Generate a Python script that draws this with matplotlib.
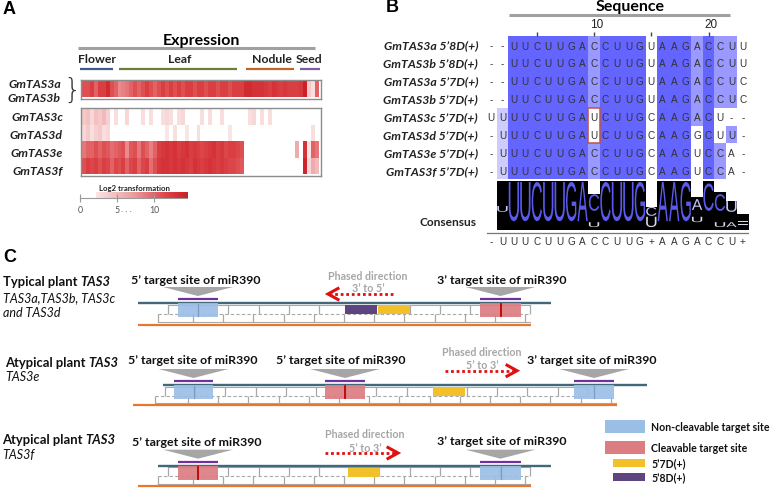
import numpy as np
import matplotlib
matplotlib.use('Agg')
import matplotlib.pyplot as plt
from matplotlib.colors import LinearSegmentedColormap
from matplotlib.patches import Rectangle, Polygon, PathPatch
from matplotlib.textpath import TextPath
from matplotlib.font_manager import FontProperties
from matplotlib.transforms import Affine2D

plt.rcParams['font.family'] = ['Lato', 'DejaVu Sans']

# ---------------- panel A data (log2 expression, 60 libraries) ----------------
groups = ['Flower', 'Leaf', 'Nodule', 'Seed']
group_cols = [(-0.6, 7.8), (9.2, 39.1), (41.4, 53.5), (55.0, 60.0)]
rows_ab = ['GmTAS3a', 'GmTAS3b']
rows_cdef = ['GmTAS3c', 'GmTAS3d', 'GmTAS3e', 'GmTAS3f']

expr_ab = [11, 11, 12, 10, 12, 12, 13.5, 11, 10, 8,
           8.5, 9, 10, 11, 10, 11, 12, 11, 10, 11,
           12, 11, 12, 11, 12, 11, 12, 12, 11, 12,
           12, 11, 12, 12, 11, 12, 12, 11, 12, 12,
           12, 13.5, 13.5, 13, 13, 13, 12.5, 12, 13, 12.5,
           12, 12.5, 12, 12, 12, 12.5, 14.5, 4, 2.5, 10]
expr_c = [4, 4.5, 3, 4.5, 4, 5, 3.5, 0, 2.5, 0,
          0, 3, 0, 0, 0, 2.5, 0, 2.5, 0, 0,
          2.5, 3, 2.5, 0, 2.5, 3, 0, 0, 0, 0,
          2.5, 0, 2.5, 0, 0, 2.5, 0, 0, 0, 0,
          0, 0, 2.5, 3, 0, 2.5, 0, 2.5, 0, 0,
          0, 0, 0, 0, 0, 0, 0, 0, 0, 0]
expr_d = [3, 4, 2.5, 3.5, 4, 2.5, 3, 0, 0, 0,
          0, 0, 0, 0, 0, 0, 0, 0, 0, 0,
          0, 2, 0, 2.5, 0, 0, 2, 0, 0, 2.5,
          0, 0, 0, 0, 0, 0, 0, 2, 0, 0,
          0, 0, 0, 0, 0, 0, 0, 0, 0, 0,
          0, 0, 0, 0, 0, 0, 0, 0, 2.5, 0]
expr_e = [9, 10, 10, 11, 10, 11, 10.5, 9.5, 10, 10.5,
          11, 8, 10.5, 11, 9, 11, 10, 8.5, 10, 12,
          12.5, 13, 12.5, 13, 12, 12.5, 13, 12, 12.5, 12,
          11.5, 12, 12.5, 13, 12, 12.5, 11.5, 12, 12, 11.5,
          11, 0, 0, 0, 0, 0, 0, 0, 0, 0,
          0, 0, 0, 0, 6, 0, 13, 2, 10, 9]
expr_f = [11, 12, 11.5, 12, 11, 12, 11.5, 10, 11.5, 11,
          12, 10, 11.5, 12, 10, 11.5, 12, 9.5, 11, 12.5,
          13, 13, 12.5, 13, 12.5, 13, 12.5, 12, 13, 12.5,
          12, 12.5, 13, 12.5, 12, 12.5, 12, 11.5, 11.5, 11,
          10.5, 0, 0, 0, 0, 0, 0, 0, 0, 0,
          0, 0, 0, 0, 0, 0, 14, 3, 6, 5]
cbar_ticks = [0, 5, 10]

# ---------------- panel B data (alignment) ----------------
seq_names = ['GmTAS3a 5’8D(+)', 'GmTAS3b 5’8D(+)', 'GmTAS3a 5’7D(+)', 'GmTAS3b 5’7D(+)',
             'GmTAS3c 5’7D(+)', 'GmTAS3d 5’7D(+)', 'GmTAS3e 5’7D(+)', 'GmTAS3f 5’7D(+)']
seqs = ['--UUCUUGACCUUGUAAGACCUU',
        '--UUCUUGACCUUGUAAGACCUU',
        '--UUCUUGACCUUGUAAGACCUC',
        '--UUCUUGACCUUGUAAGACCUC',
        'UUUUCUUGAUCUUGCAAGACU--',
        '-UUUCUUGAUCUUGCAAGGCUU-',
        '-UUUCUUGACCUUGCAAGUCCA-',
        '-UUUCUUGACCUUGCAAGUCCA-']
consensus = '-UUUCUUGACCUUG+AAGACCU+'
seq_ticks = [5, 10, 15, 20]
# logo: bar height, main letter (top, bottom), small letter below (top, bottom)
logo_bar = [0, 1, 1, 1, 1, 1, 1, 1, 1, 0.73, 1, 1, 1, 1, 0.47, 1, 1, 1, 0.67, 1, 0.78, 0.59, 0.33]
logo_main = ['', 'U', 'U', 'U', 'C', 'U', 'U', 'G', 'A', 'C', 'C', 'U', 'U', 'G',
             'C', 'A', 'A', 'G', 'A', 'C', 'C', 'U', '']
logo_main_top = [0, 0.49, .98, .98, .98, .98, .98, .98, .98, 0.73, .98, .98, .98, .98,
                 0.47, .98, .98, .98, 0.63, 0.95, 0.73, 0.59, 0]
logo_main_bot = [0, 0.37, .18, .18, .18, .18, .18, .18, .18, 0.39, .18, .18, .18, .18,
                 0.29, .18, .18, .18, 0.41, 0.39, 0.39, 0.37, 0]
logo_sub = ['', '', '', '', '', '', '', '', '', 'U', '', '', '', '', 'U', '', '', '', 'U', '', 'U', 'A', '=']
logo_sub_top = [0]*9 + [0.16] + [0]*4 + [0.27] + [0]*3 + [0.27, 0, 0.16, 0.16, 0.18]
logo_sub_bot = [0]*9 + [0.06] + [0]*4 + [0.06] + [0]*3 + [0.16, 0, 0.06, 0.06, 0.1]

W, H = 774, 489
fig = plt.figure(figsize=(W / 100, H / 100), dpi=100)


def px_axes(x0, y0, x1, y1):
    return fig.add_axes([x0 / W, 1 - y1 / H, (x1 - x0) / W, (y1 - y0) / H])


ov = fig.add_axes([0, 0, 1, 1])
ov.set_xlim(0, W)
ov.set_ylim(H, 0)
ov.axis('off')

# ================= A =================
ov.text(3, 9, 'A', fontsize=13, fontweight='bold', va='center', family=['Liberation Sans'])
ov.text(201, 41, 'Expression', fontsize=11.5, fontweight='bold', ha='center', va='center')
ov.plot([78, 315], [49, 49], color='#a0a0a0', lw=2.2, solid_capstyle='butt')
grp_colors = ['#3b5d8a', '#6b7f3a', '#c0642b', '#7d5fa0']
grp_text_x = [97, 180, 272, 309]
for g, (c0, c1), col, tx in zip(groups, group_cols, grp_colors, grp_text_x):
    ov.text(tx, 59.5, g, fontsize=8.8, fontweight='bold', ha='center', va='center', color='#222')
    ov.plot([82.5 + 3.95 * c0, 82.5 + 3.95 * c1], [70, 70], color=col, lw=1.6, solid_capstyle='butt')

cmap = LinearSegmentedColormap.from_list(
    'wr', [(0, '#ffffff'), (0.15, '#fae3e3'), (0.5, '#ec9a9c'), (0.8, '#dc4448'), (1, '#cc1f28')])

axt = px_axes(80.5, 80.5, 321, 99.5)
axt.imshow(np.array([expr_ab]), cmap=cmap, vmin=0, vmax=14.5, aspect='auto',
           extent=(0, 60, 1, 0), interpolation='nearest')
axt.set_xlim(-0.5, 60.4)
axt.set_ylim(1.06, -0.06)
axb = px_axes(80.5, 109, 321, 176.5)
axb.imshow(np.array([expr_c, expr_d, expr_e, expr_f]), cmap=cmap, vmin=0, vmax=14.5,
           aspect='auto', extent=(0, 60, 4, 0), interpolation='nearest')
axb.set_xlim(-0.5, 60.4)
axb.set_ylim(4.09, -0.09)
for a in (axt, axb):
    a.set_xticks([])
    a.set_yticks([])
    for s in a.spines.values():
        s.set_color('#8c8c8c')
        s.set_linewidth(1.0)

lab_kw = dict(fontsize=8.8, fontweight='bold', fontstyle='italic', ha='right', va='center', color='#222')
ov.text(61, 84, rows_ab[0], **lab_kw)
ov.text(61, 99, rows_ab[1], **lab_kw)
ov.text(72.5, 90.5, '}', fontsize=20, ha='center', va='center', color='#333',
        family=['DejaVu Sans'], fontweight='light')
for i, (name, yy) in enumerate(zip(rows_cdef, [117.8, 135.3, 153.5, 171])):
    ov.text(63, yy, name, **lab_kw)

# colour key
axc = px_axes(80.2, 192.5, 187, 199.3)
grad = np.linspace(2.1, 14.5, 200)[None, :]
axc.imshow(grad, cmap=cmap, vmin=0, vmax=14.5, aspect='auto', extent=(2.1, 14.5, 0, 1))
axc.set_xlim(0, 14.5)
axc.set_ylim(0, 1)
for k in ('top', 'right', 'left'):
    axc.spines[k].set_visible(False)
axc.spines['bottom'].set_color('#9a9a9a')
axc.set_yticks([])
axc.set_xticks(cbar_ticks)
axc.set_xticklabels([str(t) for t in cbar_ticks])
axc.tick_params(axis='x', direction='inout', length=6, color='#9a9a9a', labelsize=6.3,
                labelcolor='#555', pad=2)
ov.text(121, 209.5, '. . .', fontsize=6.3, color='#555', va='center')
ov.text(134.5, 188.8, 'Log2 transformation', fontsize=5.6, fontweight='bold', ha='center',
        va='center', color='#222')

# ================= B =================
ov.text(386, 8, 'B', fontsize=13, fontweight='bold', va='center', family=['Liberation Sans'])
ov.text(630, 7, 'Sequence', fontsize=11.5, fontweight='bold', ha='center', va='center')
ov.plot([509, 730], [15.5, 15.5], color='#a0a0a0', lw=2.2, solid_capstyle='butt')

ncol = len(seqs[0])
col0, dcol = 491.0, 11.45
axs = px_axes(col0 - dcol / 2, 0, col0 + dcol * (ncol - 0.5), 250)
axs.set_xlim(-0.5, ncol - 0.5)
axs.set_ylim(250, 0)
axs.axis('off')
axs.patch.set_alpha(0)

pid_cols = ['#6464ff', '#9999ff', '#ccccff']
row_y = [46 + 17.9 * r for r in range(len(seqs))]
for c in range(ncol):
    column = [s[c] for s in seqs]
    res = [ch for ch in column if ch != '-']
    if not res:
        continue
    counts = {ch: res.count(ch) for ch in set(res)}
    best = max(counts.values())
    winners = [k for k, v in counts.items() if v == best]
    if len(winners) > 1:
        continue
    pct = best / len(seqs)
    if pct > 0.8:
        fc = pid_cols[0]
    elif pct > 0.6:
        fc = pid_cols[1]
    elif pct > 0.4:
        fc = pid_cols[2]
    else:
        continue
    for r, ch in enumerate(column):
        if ch == winners[0]:
            axs.add_patch(Rectangle((c - 0.5, row_y[r] - 8.95), 1, 17.9, fc=fc, ec='none', zorder=1))

for r, s in enumerate(seqs):
    for c, ch in enumerate(s):
        axs.text(c, row_y[r] + 0.5, ch, ha='center', va='center', fontsize=7.2,
                 family=['Liberation Sans'], color='#333', zorder=3)
    ov.text(478, row_y[r], seq_names[r], fontsize=8.8, fontweight='bold', fontstyle='italic',
            ha='right', va='center', color='#222')
# mismatch box on position 10 for GmTAS3c / GmTAS3d
axs.add_patch(Rectangle((8.5, row_y[4] - 8.95), 1, 17.9 * 2, fc='none', ec='#c0504d', lw=1.1, zorder=4))

# ruler
axs.vlines([t - 1 for t in seq_ticks], 32.5, 36.5, color='#444', lw=1)
for t in seq_ticks:
    if t % 10 == 0:
        axs.text(t - 1 + 0.2, 25, str(t), ha='center', va='center', fontsize=8.5,
                 family=['Liberation Sans'], color='#222')

# logo
lt, lb = 182.0, 231.0
lh = lb - lt
axs.bar(range(ncol), [h * lh for h in logo_bar], bottom=[lb - h * lh for h in logo_bar],
        width=1.0, color='black', zorder=1)
fp = FontProperties(family='Liberation Sans', weight='normal')


def stretched(ch, c, top, bot, color):
    tp = TextPath((0, 0), ch, size=10, prop=fp)
    bb = tp.get_extents()
    y0 = lb - top * lh
    y1 = lb - bot * lh
    tr = (Affine2D().translate(-bb.x0, -bb.y0)
          .scale(0.9 / bb.width, -(y1 - y0) / bb.height)
          .translate(c - 0.45, y1))
    axs.add_patch(PathPatch(tr.transform_path(tp), fc=color, ec='none', zorder=3))


for c in range(ncol):
    if logo_main[c]:
        big = logo_main_top[c] - logo_main_bot[c] > 0.5
        col = '#5a5aee' if big or logo_main_top[c] > 0.7 else '#c9c9f5'
        stretched(logo_main[c], c, logo_main_top[c], logo_main_bot[c], col)
    if logo_sub[c]:
        stretched(logo_sub[c], c, logo_sub_top[c], logo_sub_bot[c], '#d8d8e8')

axs.plot([-0.35, ncol - 0.5], [233.5, 233.5], color='#777', lw=0.9)
for c, ch in enumerate(consensus):
    axs.text(c, 242, ch, ha='center', va='center', fontsize=7.2, family=['Liberation Sans'], color='#333')
ov.text(477, 222, 'Consensus', fontsize=8.6, fontweight='bold', ha='right', va='center', color='#222')

# ================= C =================
ov.text(3, 257, 'C', fontsize=13, fontweight='bold', va='center', family=['Liberation Sans'])
renderer = fig.canvas.get_renderer()


def rich(x, y, parts, size):
    for s, style in parts:
        t = ov.text(x, y, s, fontsize=size, fontweight='bold', fontstyle=style, ha='left',
                    va='center', color='#111')
        x += t.get_window_extent(renderer=renderer).width * W / fig.bbox.width


rich(3, 281.7, [('Typical plant ', 'normal'), ('TAS3', 'italic')], 9.4)
ov.text(3, 297.7, 'TAS3a,TAS3b, TAS3c', fontsize=9.0, fontstyle='italic', va='center', color='#111')
ov.text(3, 312.7, 'and TAS3d', fontsize=9.0, fontstyle='italic', va='center', color='#111')
rich(5, 363.3, [('Atypical plant ', 'normal'), ('TAS3', 'italic')], 9.4)
ov.text(5, 377.3, 'TAS3e', fontsize=9.0, fontstyle='italic', va='center', color='#111')
rich(2, 440, [('Atypical plant ', 'normal'), ('TAS3', 'italic')], 9.4)
ov.text(2, 455, 'TAS3f', fontsize=9.0, fontstyle='italic', va='center', color='#111')

TEAL, ORANGE, GRID = '#41697a', '#e8762d', '#a8a8a8'
BLUE, RED, YEL, PUR = '#9bbee6', '#dc7d82', '#f2c029', '#5e4580'


def ladder(teal, up, lo, orange, y_mid, y_bot):
    x0, x1, yt = teal
    ov.plot([x0, x1], [yt, yt], color=TEAL, lw=1.7, solid_capstyle='butt', zorder=3)
    ux = np.arange(up[0], up[1] + 1, 30.2)
    lx = np.concatenate([[lo[0]], np.arange(lo[1], lo[2] + 1, 30.2)])
    ov.plot([ux[0], ux[-1]], [yt + 1.5, yt + 1.5], color=GRID, lw=0.8, zorder=2)
    ov.vlines(ux, yt + 1.5, y_mid, color=GRID, lw=0.9, zorder=2)
    ov.plot([lx[0], ux[-1]], [y_mid, y_mid], color=GRID, lw=0.8, ls=(0, (3, 2)), zorder=2)
    ov.vlines(lx, y_mid, y_bot, color=GRID, lw=0.9, zorder=2)
    ov.plot([lx[0], lx[-1] + 5], [y_bot, y_bot], color=GRID, lw=0.8, zorder=2)
    ov.plot([orange[0], orange[1]], [orange[2], orange[2]], color=ORANGE, lw=1.6,
            solid_capstyle='butt', zorder=3)


def site(label, x0, x1, yt, cleav, text_x, text_y, fc):
    xc = (x0 + x1) / 2
    ov.text(text_x, text_y, label, fontsize=8.9, fontweight='bold', ha='center', va='center',
            color='#111')
    ov.add_patch(Polygon([(xc - 35, yt - 16), (xc + 35, yt - 16), (xc, yt - 7)],
                         fc='#a6a6a6', ec='none', zorder=3))
    ov.plot([x0, x1], [yt - 4, yt - 4], color='#7030a0', lw=1.6, solid_capstyle='butt', zorder=3)
    ov.add_patch(Rectangle((x0, yt), x1 - x0, 14, fc=fc, ec='none', alpha=0.92, zorder=4))
    if cleav:
        ov.plot([xc, xc], [yt + 1, yt + 13], color='#c00000', lw=1.3, zorder=5)
    else:
        ov.plot([xc, xc], [yt + 1, yt + 13], color='#7d9cc0', lw=0.9, zorder=5)


def phased(xc, y, txt, x_from, x_to):
    ov.text(xc, y - 19, 'Phased direction', fontsize=7.7, fontweight='bold', ha='center',
            va='center', color='#a6a6a6')
    ov.text(xc, y - 6, txt, fontsize=7.7, fontweight='bold', ha='center', va='center', color='#a6a6a6')
    d = 1 if x_to > x_from else -1
    ov.plot([x_from, x_to - d * 3], [y, y], color='#e01010', lw=2, ls=(0, (1, 1)), zorder=4)
    ov.plot([x_to - d * 10, x_to, x_to - d * 10], [y - 5.5, y, y + 5.5], color='#e01010', lw=2.2,
            solid_joinstyle='miter', zorder=4)


def chunk(x0, x1, yt, fc):
    ov.add_patch(Rectangle((x0, yt + 2), x1 - x0, 9, fc=fc, ec='none', zorder=4))


# row 1 : typical
ladder((138, 551, 304), (168, 530), (158, 193, 525), (138, 531, 325.5), 314.5, 323)
site('5’ target site of miR390', 178, 218, 304, False, 196, 280.7, BLUE)
site('3’ target site of miR390', 480, 521, 304, True, 502, 280.7, RED)
chunk(345, 377, 304, PUR)
chunk(378, 410, 304, YEL)
phased(368, 295, '3’ to 5’', 393, 328)

# row 2 : TAS3e
ladder((163, 647, 386), (165, 617), (155, 188, 611), (133, 617, 406), 396.5, 404)
site('5’ target site of miR390', 174, 213, 386, False, 192.5, 360.7, BLUE)
site('5’ target site of miR390', 325, 365, 386, True, 340.5, 360.7, RED)
site('3’ target site of miR390', 574, 614, 386, False, 592, 360.0, BLUE)
chunk(433, 465, 386, YEL)
phased(482, 371.7, '5’ to 3’', 445, 517)

# row 3 : TAS3f
ladder((158, 551, 466.7), (168, 530), (158, 193, 525), (138, 531, 487.3), 477, 485)
site('5’ target site of miR390', 178, 218, 466.7, True, 196.7, 442.7, RED)
site('3’ target site of miR390', 480, 521, 466.7, False, 502, 441.7, BLUE)
chunk(348, 380, 466.7, YEL)
phased(365, 454, '5’ to 3’', 325, 398)

# legend
leg = [('Non-cleavable target site', BLUE, 605, 421, 40, 13),
       ('Cleavable target site', RED, 605, 442, 40, 12.5),
       ('5’7D(+)', YEL, 613, 460, 32, 7.5),
       ('5’8D(+)', PUR, 613, 474, 32, 7.5)]
for txt, fc, x, y, w, h in leg:
    ov.add_patch(Rectangle((x, y), w, h, fc=fc, ec='none'))
    ov.text(651, y + h / 2, txt, fontsize=7.6, fontweight='bold', va='center', color='#111')

fig.savefig('out.png', dpi=100)
